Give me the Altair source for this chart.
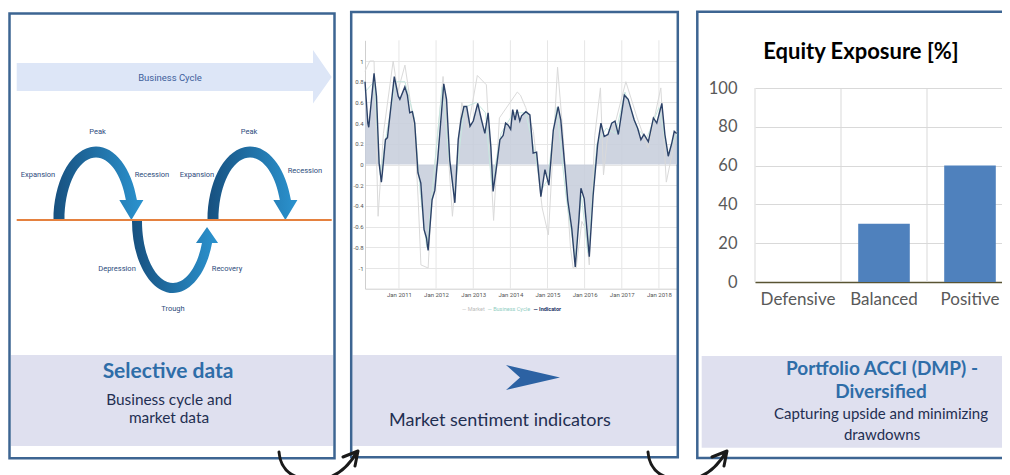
import math
import altair as alt
import pandas as pd

# ---------------- chart values ----------------
indicator_dates = [
    "2010-02-01", "2010-03-01", "2010-03-10", "2010-05-01", "2010-05-25", "2010-06-20",
    "2010-07-12", "2010-07-22", "2010-08-21", "2010-09-10", "2010-11-16", "2010-12-25",
    "2011-01-10", "2011-02-28", "2011-03-25", "2011-04-17", "2011-05-13", "2011-06-05",
    "2011-07-07", "2011-08-04", "2011-09-05", "2011-09-29", "2011-10-05", "2011-10-15",
    "2011-11-23", "2011-12-20", "2012-01-16", "2012-03-17", "2012-04-13", "2012-05-15",
    "2012-07-04", "2012-08-06", "2012-09-02", "2012-10-01", "2012-10-28", "2012-11-30",
    "2013-01-01", "2013-02-14", "2013-03-23", "2013-04-25", "2013-05-27", "2013-06-23",
    "2013-07-15", "2013-08-18", "2013-09-20", "2013-10-22", "2013-11-15", "2013-12-11",
    "2014-01-04", "2014-01-24", "2014-02-16", "2014-03-08", "2014-04-04", "2014-04-21",
    "2014-06-02", "2014-07-12", "2014-08-13", "2014-09-16", "2014-10-28", "2014-12-07",
    "2015-01-15", "2015-02-27", "2015-04-16", "2015-05-12", "2015-06-21", "2015-07-20",
    "2015-08-28", "2015-10-01", "2015-11-05", "2015-11-26", "2015-12-28", "2016-02-16",
    "2016-03-25", "2016-05-08", "2016-06-10", "2016-07-12", "2016-08-18", "2016-09-24",
    "2016-10-26", "2016-11-28", "2017-01-26", "2017-03-05", "2017-05-03", "2017-06-06",
    "2017-07-08", "2017-08-07", "2017-09-19", "2017-11-08", "2017-12-11", "2018-01-30",
    "2018-03-01", "2018-04-03", "2018-05-06", "2018-06-01", "2018-06-25",
]
indicator_values = [
    0.80, 0.40, 0.36, 0.88, 0.66, 0.01,
    -0.17, -0.08, 0.24, 0.26, 0.85, 0.66,
    0.63, 0.75, 0.67, 0.50, 0.51, 0.40,
    -0.08, -0.18, -0.63, -0.71, -0.76, -0.83,
    -0.34, -0.25, 0.04, 0.78, 0.63, 0.04,
    -0.37, 0.24, 0.43, 0.56, 0.56, 0.37,
    0.42, 0.59, 0.43, 0.30, 0.50, 0.17,
    -0.26, -0.02, 0.24, 0.28, 0.40, 0.38,
    0.34, 0.53, 0.43, 0.53, 0.42, 0.47,
    0.51, 0.48, 0.11, 0.12, -0.31, -0.05,
    -0.20, 0.33, 0.56, 0.43, -0.02, -0.35,
    -0.62, -0.99, -0.55, -0.23, -0.33, -0.89,
    -0.30, 0.19, 0.40, 0.27, 0.29, 0.40,
    0.42, 0.29, 0.67, 0.63, 0.43, 0.35,
    0.24, 0.29, 0.22, 0.45, 0.40, 0.59,
    0.29, 0.08, 0.20, 0.32, 0.30,
]
market_dates = [
    "2010-02-01", "2010-03-20", "2010-05-01", "2010-06-10", "2010-08-01", "2010-11-05",
    "2010-12-20", "2011-03-01", "2011-04-20", "2011-06-05", "2011-07-10", "2011-08-05",
    "2011-10-15", "2011-11-20", "2012-02-15", "2012-03-10", "2012-06-10", "2012-09-10",
    "2012-11-10", "2013-02-10", "2013-05-10", "2013-07-20", "2013-09-15", "2014-03-10",
    "2014-04-10", "2014-06-01", "2014-08-15", "2014-11-10", "2015-01-10", "2015-04-10",
    "2015-06-01", "2015-08-15", "2015-09-10", "2015-10-10", "2015-12-05", "2016-01-10",
    "2016-02-16", "2016-04-10", "2016-06-05", "2016-07-05", "2016-08-15", "2016-10-15",
    "2017-02-10", "2017-06-01", "2017-09-15", "2018-01-20", "2018-03-15", "2018-06-25",
]
market_values = [
    0.90, 1.00, 1.00, -0.50, 0.30, 1.00,
    0.70, 0.96, 0.63, 0.30, -0.36, -0.97,
    -1.00, -0.30, 0.60, 0.85, -0.50, 0.60,
    0.35, 0.86, 0.77, -0.54, 0.45, 0.70,
    0.67, 0.55, 0.32, -0.42, -0.68, 0.94,
    0.32, -0.80, -1.00, -1.00, -0.55, -0.62,
    -0.97, 0.28, 0.74, -0.10, 0.28, 0.35,
    0.80, 0.45, 0.16, 0.74, -0.17, 0.32,
]
cycle_dates = [
    "2010-02-01", "2010-05-01", "2010-07-01", "2010-09-01", "2010-12-01", "2011-03-01",
    "2011-06-01", "2011-08-01", "2011-10-01", "2011-12-01", "2012-03-01", "2012-05-01",
    "2012-07-01", "2012-10-01", "2013-02-01", "2013-05-01", "2013-07-01", "2013-10-01",
    "2014-02-01", "2014-06-01", "2014-09-01", "2014-11-01", "2015-01-01", "2015-04-01",
    "2015-07-01", "2015-10-01", "2015-12-01", "2016-02-01", "2016-05-01", "2016-08-01",
    "2016-11-01", "2017-02-01", "2017-06-01", "2017-09-01", "2018-01-01", "2018-04-01",
    "2018-06-25",
]
cycle_values = [
    0.70, 0.80, -0.10, 0.30, 0.80, 0.80,
    0.45, -0.30, -0.80, -0.20, 0.75, 0.10,
    -0.30, 0.55, 0.60, 0.50, -0.20, 0.30,
    0.50, 0.50, 0.10, -0.25, -0.15, 0.55,
    -0.30, -0.90, -0.30, -0.85, 0.20, 0.35,
    0.30, 0.70, 0.35, 0.25, 0.55, 0.10,
    0.30,
]
axis_years = [2011, 2012, 2013, 2014, 2015, 2016, 2017, 2018]
sentiment_ticks = [-1, -0.8, -0.6, -0.4, -0.2, 0, 0.2, 0.4, 0.6, 0.8, 1]
exposure_categories = ["Defensive", "Balanced", "Positive"]
exposure_values = [0, 30, 60]
exposure_ticks = [0, 20, 40, 60, 80, 100]

# ---------------- layout helpers ----------------
OFF = 8
W, H = 994, 467
R = 100.0
SMALL = "Roboto, Liberation Sans, sans-serif"
SANS = "Lato, Open Sans, sans-serif"

one = pd.DataFrame({"k": [0]})


def P(v):
    return round(v - OFF, 2)


def f4(v):
    return f"{v:.4f}"


def build_path(cmds):
    parts = []
    for c in cmds:
        k = c[0]
        if k == "Z":
            parts.append("Z")
        elif k == "A":
            rx, ry, rot, large, sweep, x, y = c[1:]
            parts.append(f"A {f4(rx / R)} {f4(ry / R)} {rot} {large} {sweep} "
                         f"{f4((x - OFF) / R)} {f4((y - OFF) / R)}")
        else:
            parts.append(k + " " + " ".join(f4((n - OFF) / R) for n in c[1:]))
    return " ".join(parts)


def shape_layer(cmds, fill=None, stroke=None, sw=0.0):
    props = dict(shape=build_path(cmds), size=(2 * R) ** 2, opacity=1)
    if fill is not None:
        props.update(filled=True, fill=fill, strokeWidth=0)
    else:
        props.update(filled=False, stroke=stroke, strokeWidth=sw,
                     strokeCap="round", strokeJoin="round")
    return alt.Chart(one).mark_point(**props).encode(x=alt.value(0), y=alt.value(0))


def label(s, x, y, size, color, weight="normal", font=SANS, align="center"):
    return alt.Chart(one).mark_text(
        text=s, fontSize=size, color=color, fontWeight=weight, font=font,
        align=align, baseline="middle"
    ).encode(x=alt.value(P(x)), y=alt.value(P(y)))


def box(x1, y1, x2, y2, fill, stroke=None, sw=0.0):
    props = dict(fill=fill, strokeWidth=sw)
    if stroke:
        props["stroke"] = stroke
    return alt.Chart(one).mark_rect(**props).encode(
        x=alt.value(P(x1)), x2=alt.value(P(x2)), y=alt.value(P(y1)), y2=alt.value(P(y2)))


def arch_peak(c, base, rx, ry, t, h, aw, tip):
    rxo, rxi, ryo, ryi = rx + t / 2, rx - t / 2, ry + t / 2, ry - t / 2
    y0 = base - h
    xo = c + rxo * math.sqrt(1 - (h / ryo) ** 2)
    xi = c + rxi * math.sqrt(1 - (h / ryi) ** 2)
    xm = (xo + xi) / 2
    return [("M", c - rxo, base), ("A", rxo, ryo, 0, 0, 1, xo, y0), ("L", xo + aw, y0),
            ("L", xm, tip), ("L", xi - aw, y0), ("L", xi, y0),
            ("A", rxi, ryi, 0, 0, 0, c - rxi, base), ("Z",)]


def arch_trough(c, top, rx, ry, t, h, aw, tip):
    rxo, rxi, ryo, ryi = rx + t / 2, rx - t / 2, ry + t / 2, ry - t / 2
    y0 = top + h
    xo = c + rxo * math.sqrt(1 - (h / ryo) ** 2)
    xi = c + rxi * math.sqrt(1 - (h / ryi) ** 2)
    xm = (xo + xi) / 2
    return [("M", c - rxo, top), ("A", rxo, ryo, 0, 0, 0, xo, y0), ("L", xo + aw, y0),
            ("L", xm, tip), ("L", xi - aw, y0), ("L", xi, y0),
            ("A", rxi, ryi, 0, 0, 1, c - rxi, top), ("Z",)]


arc_grad = alt.LinearGradient(
    gradient="linear", x1=0, y1=0, x2=1, y2=0,
    stops=[alt.GradientStop(color="#17507f", offset=0),
           alt.GradientStop(color="#2b93cf", offset=1)])

FRAME = "#3d6592"
CAPTION = "#dfe0ef"
BLUE_T = "#2e6da8"
DARK_T = "#1f2f52"
DIAG_T = "#2d4b7c"

layers = []

# caption boxes and frames
layers += [
    box(11, 355, 333, 446, CAPTION),
    box(352.5, 355, 676.5, 446, CAPTION),
    box(701.7, 356, 1030, 447.7, CAPTION),
    box(9.5, 13.5, 334.5, 458.3, "transparent", FRAME, 2.5),
    box(351.2, 12, 677.8, 457.3, "transparent", FRAME, 2.5),
    box(697.3, 11.7, 1030, 458, "transparent", FRAME, 2.5),
]

# ---------- panel 1 : business cycle diagram ----------
layers.append(shape_layer(
    [("M", 16.7, 63), ("L", 313, 63), ("L", 313, 50), ("L", 331.7, 77),
     ("L", 313, 103.5), ("L", 313, 91), ("L", 16.7, 91), ("Z",)], fill="#dde6f7"))
layers.append(label("Business Cycle", 170, 78, 9.5, "#3e5f9c", font=SMALL))
layers.append(shape_layer(arch_peak(96, 220, 37, 68, 11, 20, 6.5, 220), fill=arc_grad))
layers.append(shape_layer(arch_peak(250, 220, 37, 68, 11, 20, 6.5, 220), fill=arc_grad))
layers.append(shape_layer(arch_trough(173, 221, 36, 67, 10, 22, 6, 227), fill=arc_grad))
layers.append(alt.Chart(one).mark_rule(color="#e5813f", strokeWidth=2).encode(
    x=alt.value(P(16.7)), x2=alt.value(P(331.7)), y=alt.value(P(220))))
for s, x, y in [("Peak", 97.5, 132), ("Peak", 249, 132), ("Expansion", 38, 175),
                ("Recession", 152, 175), ("Expansion", 197, 175), ("Recession", 305, 171),
                ("Depression", 117, 269), ("Recovery", 227, 269), ("Trough", 173, 309)]:
    layers.append(label(s, x, y, 7.5, DIAG_T, font=SMALL))
layers.append(label("Selective data", 168, 372, 21, BLUE_T, weight="bold"))
layers.append(label("Business cycle and", 169, 399.5, 15.4, DARK_T))
layers.append(label("market data", 169, 418, 15.4, DARK_T))

# ---------- panel 2 : market sentiment line chart ----------
ind_df = pd.DataFrame({"date": pd.to_datetime(indicator_dates), "value": indicator_values})
mkt_df = pd.DataFrame({"date": pd.to_datetime(market_dates), "value": market_values})
cyc_df = pd.DataFrame({"date": pd.to_datetime(cycle_dates), "value": cycle_values})
years_df = pd.DataFrame({"date": pd.to_datetime([f"{y}-01-01" for y in axis_years])})

Y_BOT, Y_TOP = 288.7, 40.3
line_x = alt.X(
    "date:T", title=None,
    scale=alt.Scale(domain=[alt.DateTime(year=2010, month=2, date=1),
                            alt.DateTime(year=2018, month=6, date=28)],
                    range=[P(365), P(677)]),
    axis=alt.Axis(orient="bottom", offset=P(Y_BOT) - H,
                  values=[alt.DateTime(year=y, month=1, date=1) for y in axis_years],
                  format="%b %Y", labelFont=SMALL, labelFontSize=6, labelColor="#555555",
                  labelPadding=3, ticks=False, grid=False, domainColor="#cfcfcf",
                  labelOverlap=False, labelFlush=False))
line_y = alt.Y(
    "value:Q", title=None,
    scale=alt.Scale(domain=[-1.2, 1.2], range=[P(Y_BOT), P(Y_TOP)], nice=False, zero=False),
    axis=alt.Axis(orient="left", offset=-P(365), values=sentiment_ticks,
                  labelExpr="'' + datum.value", labelFont=SMALL, labelFontSize=6,
                  labelColor="#555555", labelPadding=2, ticks=False, grid=True,
                  gridColor="#e6e6e6", domainColor="#cfcfcf"))

vgrid = alt.Chart(years_df).mark_rule(color="#e6e6e6", strokeWidth=1).encode(
    x=line_x, y=alt.datum(1.2), y2=alt.datum(-1.2))
area = alt.Chart(ind_df).mark_area(color="#c6ccdb", opacity=0.85).encode(
    x=line_x, y=line_y, y2=alt.datum(0))
mkt_line = alt.Chart(mkt_df).mark_line(color="#dadada", strokeWidth=1).encode(x=line_x, y=line_y)
cyc_line = alt.Chart(cyc_df).mark_line(color="#c8e8e0", strokeWidth=1).encode(x=line_x, y=line_y)
ind_line = alt.Chart(ind_df).mark_line(color="#2c4268", strokeWidth=1.4).encode(x=line_x, y=line_y)
layers.append(alt.layer(vgrid, area, mkt_line, cyc_line, ind_line))

layers.append(label("— Market", 462, 309, 5.5, "#bdbdbd", font=SMALL, align="left"))
layers.append(label("— Business Cycle", 487.5, 309, 5.5, "#8fcdbf", font=SMALL, align="left"))
layers.append(label("— Indicator", 533.5, 309, 5.5, "#1e3766", weight="bold", font=SMALL, align="left"))

layers.append(shape_layer(
    [("M", 506, 365), ("L", 560, 377.5), ("L", 506, 390), ("L", 520, 377.5), ("Z",)],
    fill="#2c62a3"))
layers.append(label("Market sentiment indicators", 389, 421, 18, DARK_T, align="left"))

# ---------- panel 3 : equity exposure bar chart ----------
ex_df = pd.DataFrame({"category": exposure_categories, "value": exposure_values})
bar_scale = alt.Scale(domain=exposure_categories, range=[P(755), P(1013)],
                      paddingInner=0, paddingOuter=0)
bar_axis = alt.Axis(orient="bottom", offset=P(282) - H, labelFont=SANS, labelFontSize=17,
                    labelColor="#595959", labelPadding=9, labelAngle=0, ticks=False,
                    grid=False, domainColor="#595433", domainWidth=1.5)
bar_y = alt.Y(
    "value:Q", title=None,
    scale=alt.Scale(domain=[0, 100], range=[P(282), P(88)], nice=False),
    axis=alt.Axis(orient="left", offset=-P(755), values=exposure_ticks, labelFont=SANS,
                  labelFontSize=16.5, labelColor="#595959", labelPadding=18, ticks=False,
                  domain=False, grid=True, gridColor="#d9d9d9"))
bgrid = alt.Chart(ex_df).mark_rule(color="#d9d9d9", strokeWidth=1).encode(
    x=alt.X("category:N", title=None, scale=bar_scale, axis=bar_axis, bandPosition=0),
    y=alt.datum(0), y2=alt.datum(100))
bars = alt.Chart(ex_df).mark_bar(color="#4f81bd", width={"band": 0.6}).encode(
    x=alt.X("category:N", title=None, scale=bar_scale, axis=bar_axis), y=bar_y)
layers.append(alt.layer(bgrid, bars))

layers.append(label("Equity Exposure [%]", 861, 52, 22, "#000000", weight="bold"))
layers.append(label("Portfolio ACCI (DMP) -", 882, 369, 19, BLUE_T, weight="bold"))
layers.append(label("Diversified", 881, 391.5, 19, BLUE_T, weight="bold"))
layers.append(label("Capturing upside and minimizing", 881, 413.5, 15, DARK_T))
layers.append(label("drawdowns", 882, 435, 15, DARK_T))

# ---------- hand-drawn connecting arrows ----------
for dx in (0, 369):
    layers.append(shape_layer(
        [("M", 279 + dx, 452), ("Q", 281 + dx, 478, 312 + dx, 480),
         ("Q", 340 + dx, 481, 357 + dx, 452),
         ("M", 343 + dx, 457), ("L", 358 + dx, 451), ("L", 355 + dx, 466)],
        stroke="#1a1a1a", sw=3))

chart = (
    alt.layer(*layers)
    .resolve_scale(x="independent", y="independent")
    .properties(width=W, height=H, padding=0,
                autosize=alt.AutoSizeParams(type="none"), background="white")
    .configure_view(stroke=None)
)

chart.save("out.html", embed_options={"renderer": "svg", "actions": False})
